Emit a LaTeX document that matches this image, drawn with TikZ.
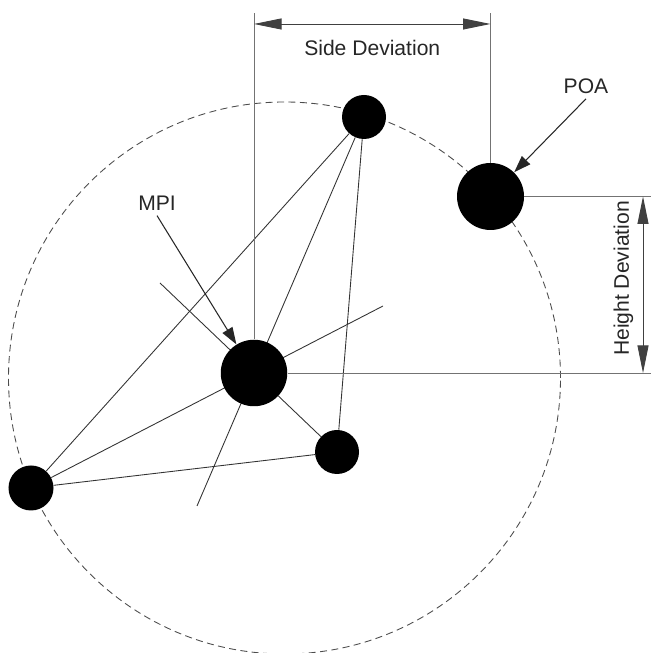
\documentclass[tikz,border=0pt]{standalone}
\usepackage{fontspec}
\setmainfont{Liberation Sans}
\usetikzlibrary{positioning, arrows.meta, backgrounds}
\tikzset{linea/.style={line width=0.5pt, draw=black!80}}
\tikzset{guia/.style={line width=0.5pt, draw=black!55}}
\tikzset{contorno/.style={line width=0.5pt, draw=black!70, dash pattern=on 4pt off 2.5pt}}
\tikzset{impacto/.style={circle, fill=black, inner sep=0pt, minimum size=#1}}
\tikzset{cota/.style={line width=0.5pt, draw=black!75, {Triangle[length=5.5mm,width=2.2mm]}-{Triangle[length=5.5mm,width=2.2mm]}}}
\tikzset{flecha/.style={line width=0.6pt, draw=black!85, -{Triangle[length=3.4mm,width=2.3mm]}}}
\tikzset{etiqueta/.style={text=black!85, font=\fontsize{12}{14}\selectfont, inner sep=0pt}}

\begin{document}
\begin{tikzpicture}[
                scale = 1
            ]
                \useasboundingbox (0,0) rectangle (13.02,13.06);
                \draw[contorno] (5.69,5.50) circle (5.52);

                \node[impacto=8.8mm](1) at (7.28,10.72) {};
                \node[impacto=8.8mm](2) at (6.74,4.02) {};
                \node[impacto=9mm](3) at (0.62,3.30) {};
                \node[impacto=13.3mm](mpi) at (5.08,5.60) {};
                \node[impacto=13.4mm](poa) at (9.81,9.13) {};

                \coordinate (a) at (3.20,7.40);
                \coordinate (b) at (3.94,2.94);
                \coordinate (c) at (7.66,6.94);
                \coordinate (tope) at (0,12.80);
                \coordinate (borde) at (13.02,0);
                \coordinate (sd) at (0,12.58);
                \coordinate (hd) at (12.86,0);

                % lineas entre impactos, bajo los circulos
                \begin{pgfonlayer}{background}
                \draw[linea] (3) -- (1);
                \draw[linea] (3) -- (2);
                \draw[linea] (1) -- (2);
                \draw[linea] (3) -- (c);
                \draw[linea] (1) -- (b);
                \draw[linea] (a) -- (2);
                \end{pgfonlayer}

                \draw[guia] (mpi) -- (mpi |- tope);
                \draw[guia] (poa) -- (poa |- tope);
                \draw[guia] (mpi) -- (mpi -| borde);
                \draw[guia] (poa) -- (poa -| borde);

                \draw[cota] (mpi |- sd) -- (poa |- sd) node[etiqueta, midway, below=3.2mm]{Side Deviation};
                \draw[cota] (poa -| hd) -- (mpi -| hd);
                \node[etiqueta, rotate=90] (hdtext) at (12.47,7.49) {Height Deviation};

                \node[etiqueta] (poalabel) at (11.72,11.34) {POA};
                \node[etiqueta] (mpilabel) at (3.14,9.00) {MPI};
                \draw[flecha] ([yshift=-1mm]poalabel.south) -- (poa);
                \draw[flecha] ([yshift=-1mm]mpilabel.south) -- (mpi);
            \end{tikzpicture}
\end{document}
